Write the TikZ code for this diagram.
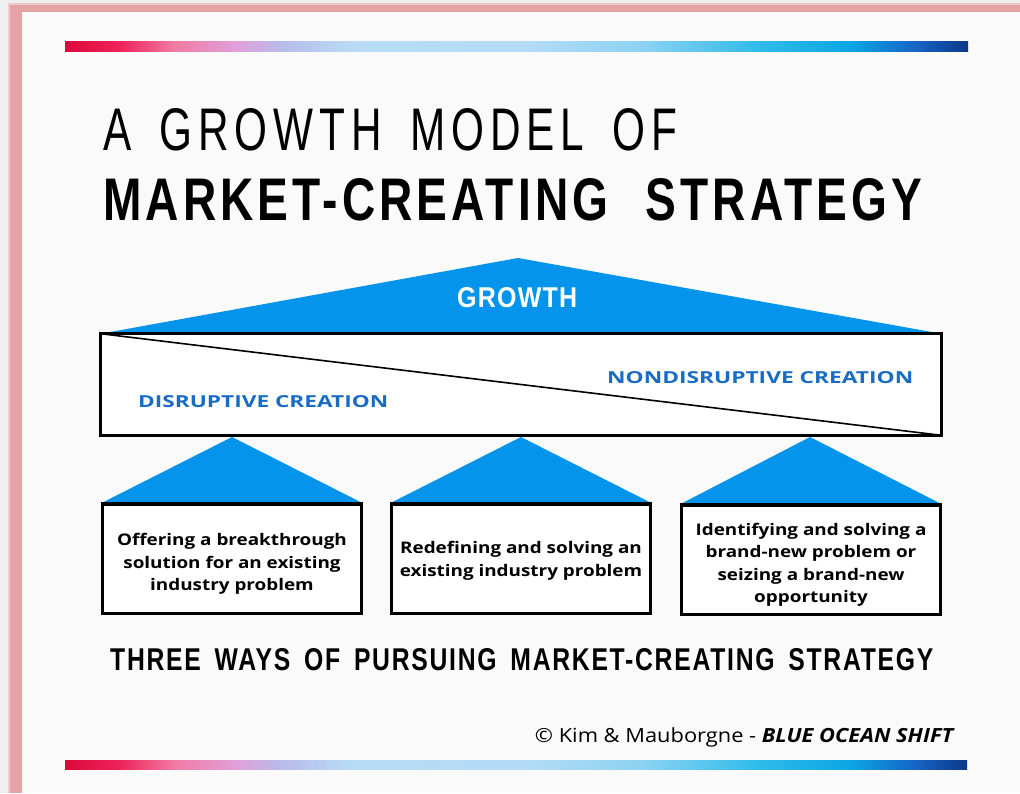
\documentclass[tikz,border=0pt]{standalone}
\usepackage{fontspec}
\usepackage{graphicx}
\setmainfont{Open Sans}
\newfontfamily\headfont[LetterSpace=9, WordSpace=2.2]{Liberation Sans}
\newfontfamily\lightheadfont[LetterSpace=14, WordSpace=1.6]{Liberation Sans}
\newfontfamily\bandfont[LetterSpace=7, WordSpace=1.6]{Liberation Sans}
\newfontfamily\peakfont[LetterSpace=5]{Liberation Sans}
\newfontfamily\boxfont[FakeStretch=1.18]{Open Sans}
\newfontfamily\creditfont[FakeStretch=1.12]{Open Sans}

\definecolor{pagegray}{HTML}{EFEFEF}
\definecolor{paper}{HTML}{FAFAFA}
\definecolor{frame}{HTML}{E6A3A3}
\definecolor{peakblue}{RGB}{4,148,236}
\definecolor{labelblue}{RGB}{24,108,198}
\definecolor{gA}{HTML}{DC0A3A}
\definecolor{gB}{HTML}{EE2259}
\definecolor{gC}{HTML}{F07AA2}
\definecolor{gD}{HTML}{E0A0DA}
\definecolor{gE}{HTML}{B8BCEA}
\definecolor{gF}{HTML}{B8DCF5}
\definecolor{gG}{HTML}{B4DCF6}
\definecolor{gH}{HTML}{8CD2F2}
\definecolor{gI}{HTML}{2EBBE9}
\definecolor{gJ}{HTML}{0CA6E4}
\definecolor{gK}{HTML}{1666C8}
\definecolor{gL}{HTML}{0C3888}

% TikZ maps a path onto the middle half (25bp--75bp) of a shading
\pgfdeclarehorizontalshading{brandbar}{100bp}{%
  color(0bp)=(gA); color(25bp)=(gA); color(28bp)=(gB); color(31bp)=(gC);
  color(34.5bp)=(gD); color(37bp)=(gE); color(41bp)=(gF); color(50.5bp)=(gG);
  color(57bp)=(gH); color(63.5bp)=(gI); color(68.5bp)=(gJ); color(72bp)=(gK);
  color(75bp)=(gL); color(100bp)=(gL)}

\tikzset{
  bar/.style={shading=brandbar, draw=none},
  peak/.style={fill=peakblue, draw=none},
  outline/.style={draw=black, line width=2.6pt, fill=white, inner sep=0pt},
  waybox/.style={outline, minimum width=259pt, minimum height=109pt},
  waytext/.style={inner sep=0pt, align=center,
    font=\boxfont\bfseries\fontsize{16}{22.5}\selectfont},
  blabel/.style={inner sep=0pt, anchor=base west, text=labelblue},
  plain/.style={inner sep=0pt, anchor=base west},
}

\begin{document}
\begin{tikzpicture}[x=1pt, y=-1pt]
\useasboundingbox (0,0) rectangle (1020,793);

% page, frame and sheet
\fill[pagegray] (0,0) rectangle (1020,793);
\fill[frame!60] (8,3) rectangle (1020,793);
\fill[frame] (10,5) rectangle (1020,793);
\fill[paper] (22,12) rectangle (1020,793);

% decorative bars
\shade[bar] (65,41) rectangle (968,51);
\shade[bar] (65,760) rectangle (967,769);

% heading
\node[plain] (title1) at (103,150)
  {\resizebox{574pt}{42pt}{\lightheadfont A GROWTH MODEL OF}};
\node[plain] (title2) at (103,220)
  {\resizebox{819pt}{42pt}{\headfont\bfseries MARKET-CREATING STRATEGY}};

% growth roof and the creation band
\node[outline, minimum width=838pt, minimum height=99pt] (band) at (521,384.5) {};
\coordinate (roof) at (518,258);
\fill[peak] (band.north west) -- (roof) -- (band.north east) -- cycle;
\draw[outline] (band.north west) rectangle (band.south east);
\draw[line width=1.6pt] (band.north west) -- (band.south east);
\node[plain, text=white] (growth) at (457,307)
  {\resizebox{120pt}{20pt}{\peakfont\bfseries GROWTH}};
\node[blabel] (disr) at (138,407)
  {\resizebox{250pt}{12pt}{\bfseries DISRUPTIVE CREATION}};
\node[blabel] (nondisr) at (607,383)
  {\resizebox{306pt}{12pt}{\bfseries NONDISRUPTIVE CREATION}};

% three ways
\node[waybox] (way1) at (232,559) {};
\node[waybox] (way2) at (521,559) {};
\node[waybox] (way3) at (811,560) {};
\node[waytext] (way1text) at (232,564)
  {Offering a breakthrough\\solution for an existing\\industry problem};
\node[waytext] (way2text) at (521,561)
  {Redefining and solving an\\existing industry problem};
\node[waytext] (way3text) at (811,565)
  {Identifying and solving a\\brand-new problem or\\seizing a brand-new\\opportunity};

\coordinate (top1) at (232,437);
\coordinate (top2) at (521,437);
\coordinate (top3) at (810,437);
\fill[peak] (way1.north west) -- (top1) -- (way1.north east) -- cycle;
\fill[peak] (way2.north west) -- (top2) -- (way2.north east) -- cycle;
\fill[peak] (way3.north west) -- (top3) -- (way3.north east) -- cycle;
\draw[line width=2.6pt] (way1.north west) -- (way1.north east);
\draw[line width=2.6pt] (way2.north west) -- (way2.north east);
\draw[line width=2.6pt] (way3.north west) -- (way3.north east);

\node[plain] (ways) at (110,670)
  {\resizebox{823pt}{22pt}{\bandfont\bfseries THREE WAYS OF PURSUING MARKET-CREATING STRATEGY}};

% credit line
\node[inner sep=0pt, anchor=base east] (credit) at (955,742)
  {\creditfont\fontsize{19.5}{22}\selectfont \textcopyright{} Kim \& Mauborgne - \textbf{\textit{BLUE OCEAN SHIFT}}};
\end{tikzpicture}
\end{document}
